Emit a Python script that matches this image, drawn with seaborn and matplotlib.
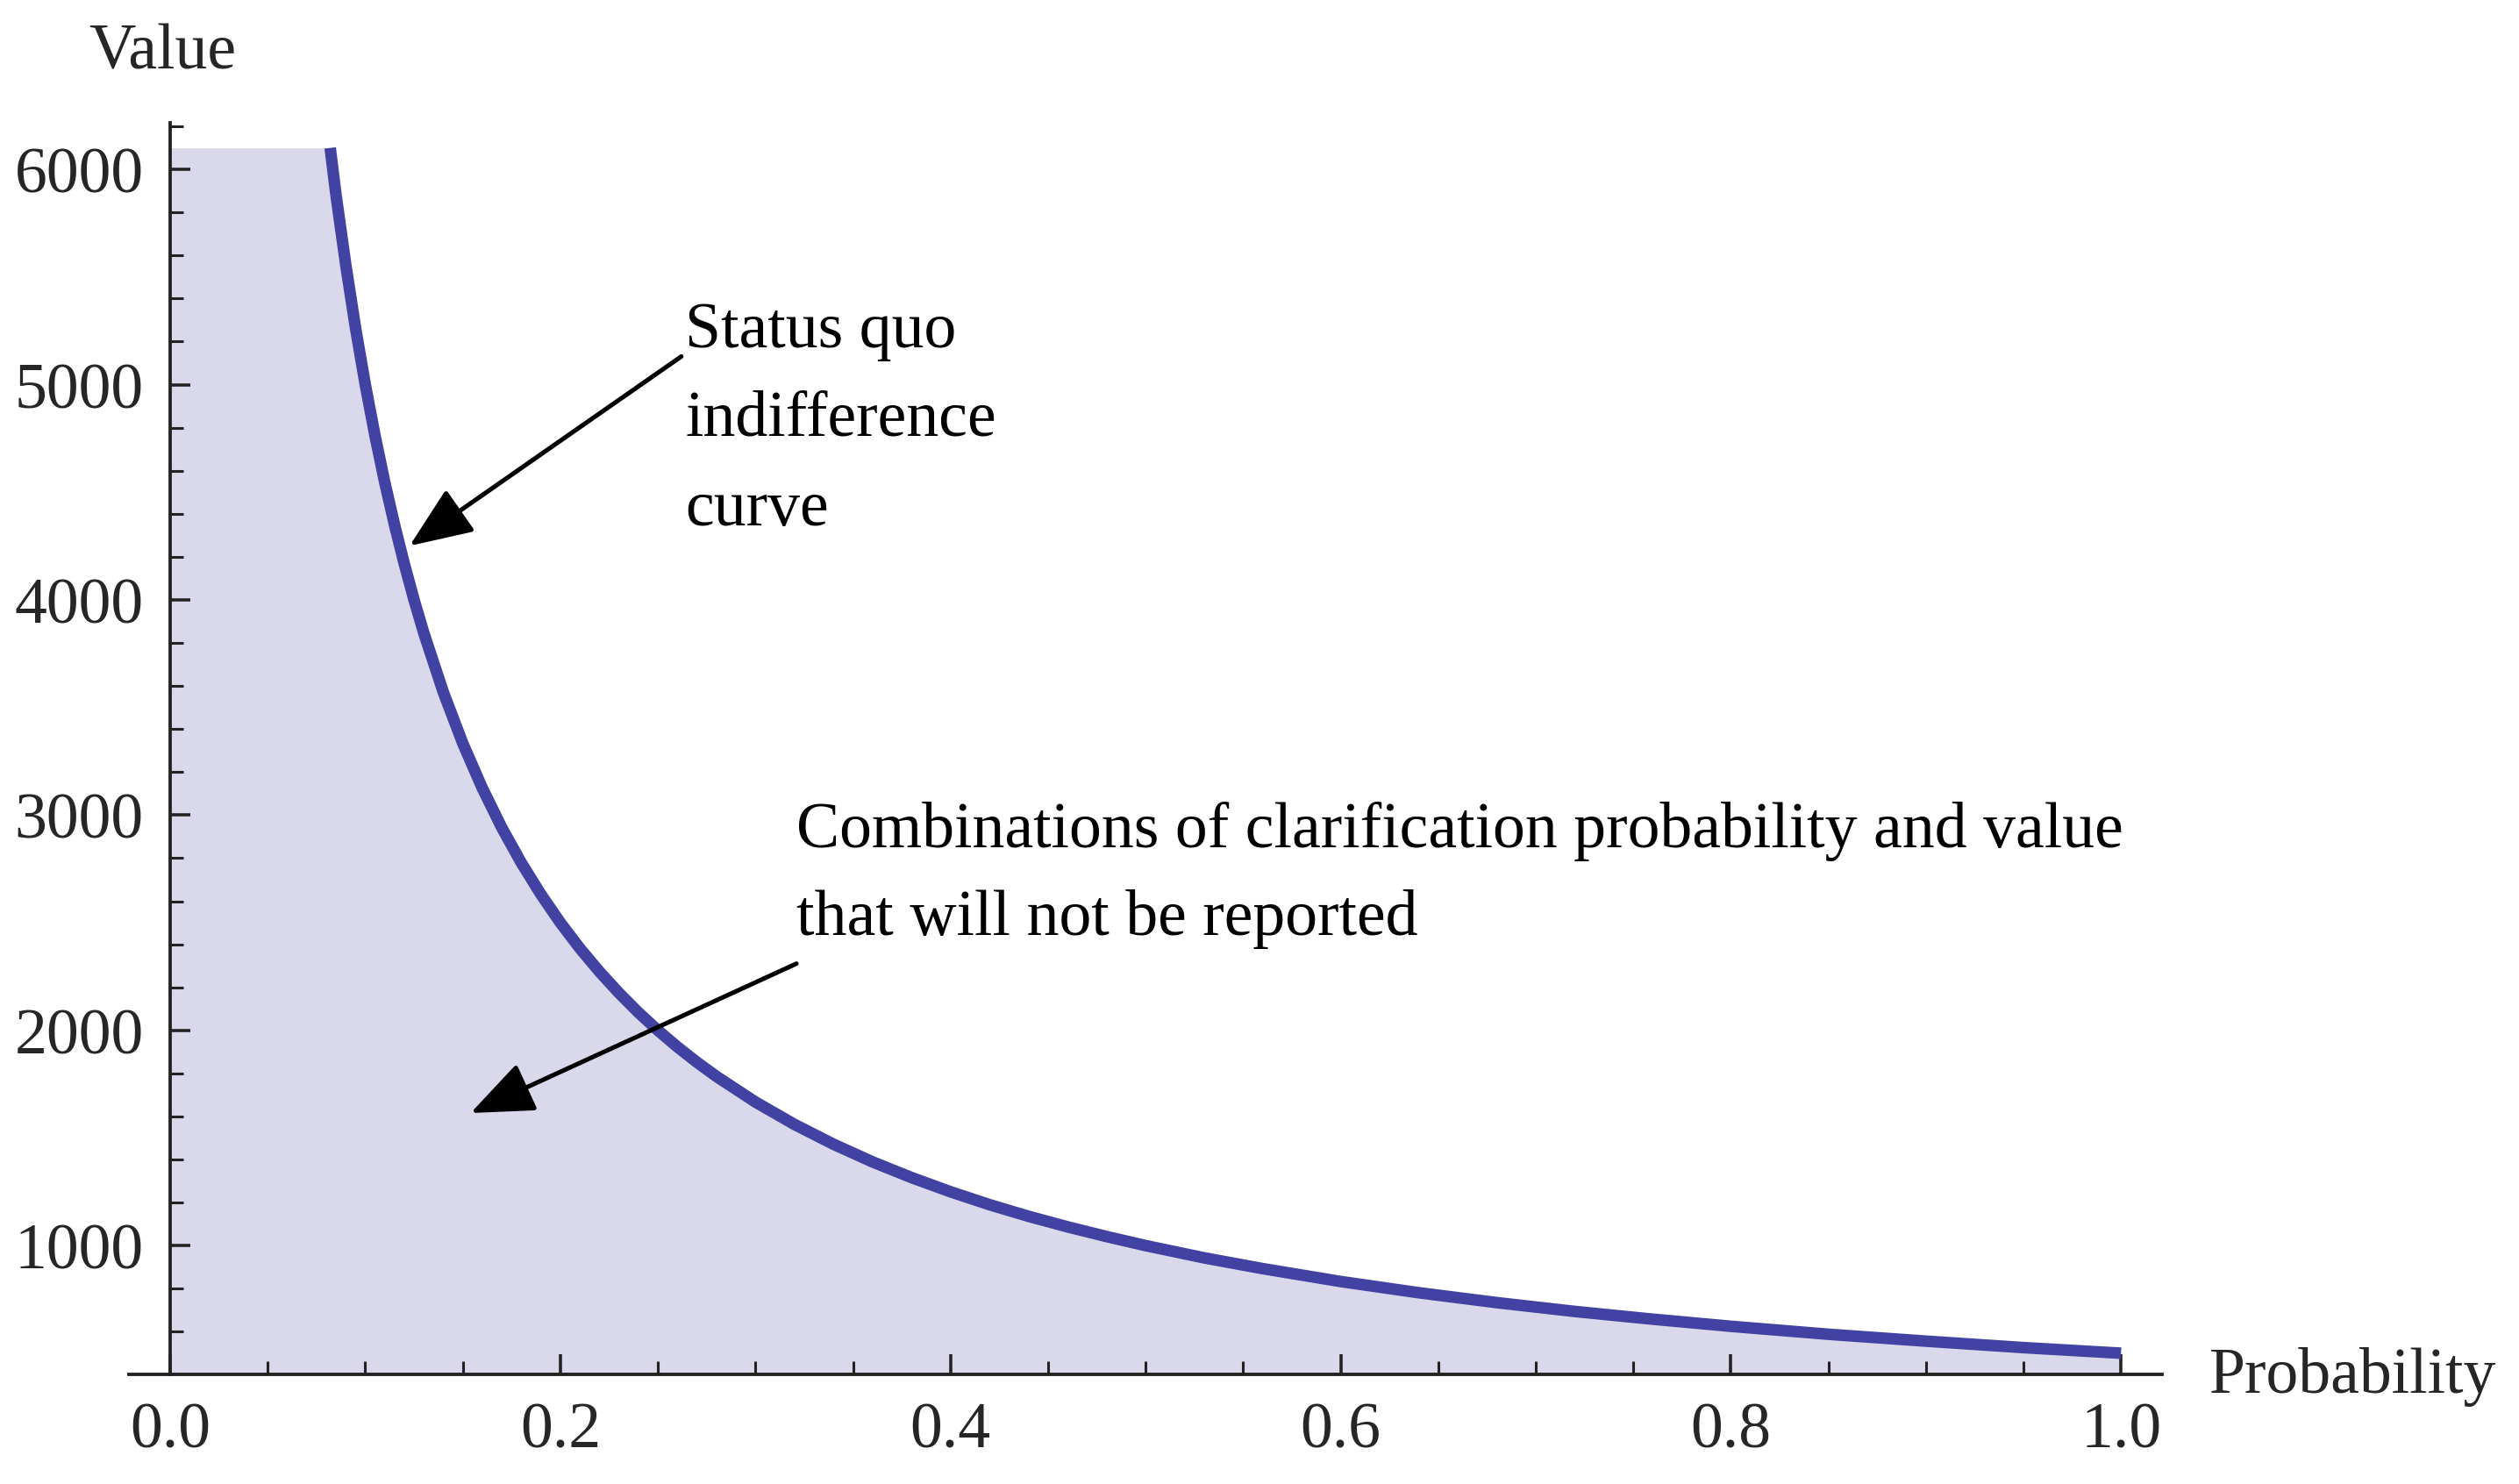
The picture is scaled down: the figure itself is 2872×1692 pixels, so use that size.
import numpy as np
import pandas as pd
import matplotlib
matplotlib.use('Agg')
import matplotlib.pyplot as plt
import seaborn as sns

# values
probability = [0.082, 0.085, 0.09, 0.095, 0.10, 0.105, 0.11, 0.115, 0.12, 0.125,
               0.13, 0.14, 0.15, 0.16, 0.17, 0.18, 0.19, 0.20, 0.21, 0.22,
               0.23, 0.24, 0.25, 0.26, 0.27, 0.28, 0.30, 0.32, 0.34, 0.36,
               0.38, 0.40, 0.42, 0.44, 0.46, 0.48, 0.50, 0.53, 0.56, 0.60,
               0.64, 0.68, 0.72, 0.76, 0.80, 0.85, 0.90, 0.95, 1.00]
value = [6100, 5880, 5556, 5263, 5000, 4762, 4545, 4348, 4167, 4000,
         3846, 3571, 3333, 3125, 2941, 2778, 2632, 2500, 2381, 2273,
         2174, 2083, 2000, 1923, 1852, 1786, 1667, 1563, 1471, 1389,
         1316, 1250, 1190, 1136, 1087, 1042, 1000, 943, 893, 833,
         781, 735, 694, 658, 625, 588, 556, 526, 500]
plot_top = 6100
x_ticks = [0.0, 0.2, 0.4, 0.6, 0.8, 1.0]
y_ticks = [1000, 2000, 3000, 4000, 5000, 6000]

line_color = '#4242A3'
fill_color = '#D9D9EB'

sns.set_style('ticks')
plt.rcParams['font.family'] = ['Liberation Serif', 'DejaVu Serif']

df = pd.DataFrame({'Probability': probability, 'Value': value})

fig = plt.figure(figsize=(15.68, 9.24), dpi=183.2)
ax = fig.add_axes([0.0513, 0.0736, 0.8068, 0.843])
ax.set_axisbelow(False)

# shaded region below the curve (flat at the top of the plot range)
fill_x = [0.0] + probability
fill_y = [plot_top] + value
ax.fill_between(fill_x, 400, fill_y, color=fill_color, lw=0, zorder=1)

sns.lineplot(data=df, x='Probability', y='Value', ax=ax, color=line_color,
             lw=5.2, solid_capstyle='butt', solid_joinstyle='round',
             zorder=3, sort=False)

ax.set_xlim(-0.021, 1.021)
ax.set_ylim(400, 6215)
ax.set_xlabel('')
ax.set_ylabel('')

ax.spines['top'].set_visible(False)
ax.spines['right'].set_visible(False)
ax.spines['left'].set_position(('data', 0))
for s in ['left', 'bottom']:
    ax.spines[s].set_linewidth(1.5)
    ax.spines[s].set_color('#222222')
    ax.spines[s].set_zorder(4)

ax.set_xticks(x_ticks)
ax.set_xticklabels([f'{t:.1f}' for t in x_ticks])
ax.set_yticks(y_ticks)
ax.set_yticklabels([str(t) for t in y_ticks])
ax.set_xticks(np.arange(0.05, 1.0, 0.05), minor=True)
ax.set_yticks(np.arange(600, 6201, 200), minor=True)
ax.tick_params(which='major', direction='in', length=9, width=1.4,
               labelsize=29, pad=12, color='#222222')
ax.tick_params(which='minor', direction='in', length=6, width=1.2,
               color='#222222')

fig.text(101 / 1568, 1 - 33 / 924, 'Value', fontsize=29, ha='center', va='center')
fig.text(1375 / 1568, 1 - 857 / 924, 'Probability', fontsize=29, ha='left',
         va='center')

# annotations
txt = dict(fontsize=29, ha='left', va='baseline', color='black')
ax.text(0.264, 5176, 'Status quo', **txt)
ax.text(0.264, 4766, 'indifference', **txt)
ax.text(0.264, 4348, 'curve', **txt)
ax.text(0.321, 2855, 'Combinations of clarification probability and value', **txt)
ax.text(0.321, 2445, 'that will not be reported', **txt)

arrow = dict(arrowstyle='-|>,head_length=1.1,head_width=0.45', color='black',
             lw=2.0, mutation_scale=22, shrinkA=0, shrinkB=0)
ax.annotate('', xy=(0.1227, 4251), xytext=(0.262, 5131), arrowprops=arrow)
ax.annotate('', xy=(0.154, 1616), xytext=(0.321, 2310), arrowprops=arrow)

fig.savefig('out.png', dpi=183.2, facecolor='white')
